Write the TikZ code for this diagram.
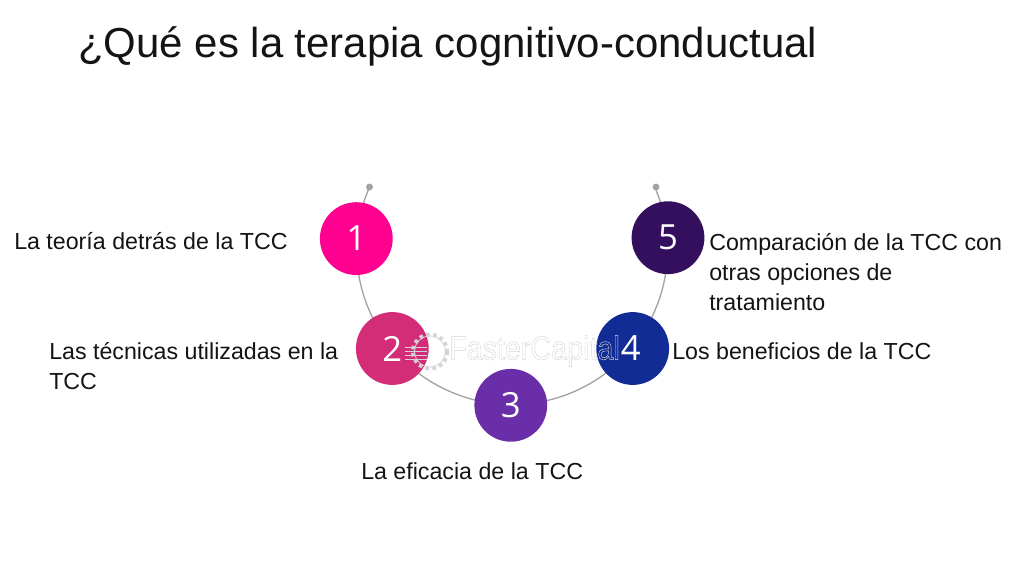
\documentclass[tikz,border=0pt]{standalone}
\usepackage{fontspec}
\setmainfont{Liberation Sans}
\newfontfamily\numfont{Open Sans}
\definecolor{cA}{HTML}{FF0090}
\definecolor{cB}{HTML}{D42D78}
\definecolor{cC}{HTML}{6A2FA8}
\definecolor{cD}{HTML}{122C96}
\definecolor{cE}{HTML}{340F5E}
\definecolor{lineg}{HTML}{A3A3A3}
\definecolor{wmg}{HTML}{D4D4D4}
\tikzset{
 px/.style={x=0.75pt,y=-0.75pt},
 num/.style={circle,minimum size=54.6pt,inner sep=0pt,text=white,font=\numfont\fontsize{26}{26}\selectfont},
 lab/.style={anchor=west,inner sep=0pt,font=\fontsize{17.4}{22.6}\selectfont,text=black!92,align=left},
 arcline/.style={draw=lineg,line width=1pt},
 dotend/.style={circle,fill=lineg,minimum size=5.2pt,inner sep=0pt},
 wmline/.style={draw=wmg,line width=0.6pt}
}
\begin{document}
\begin{tikzpicture}[px]
\useasboundingbox[fill=white] (0,0) rectangle (1024,572);
\node[anchor=west,inner sep=0pt,font=\fontsize{31.45}{36}\selectfont,text=black!92] (title) at (78,46) {¿Qué es la terapia cognitivo-conductual};
\coordinate (s) at (369.5,187);
\coordinate (e) at (656,187);
\draw[arcline] (s) arc[start angle=203.5,end angle=-23.5,radius=155.5];
\node[dotend] (ds) at (s) {};
\node[dotend] (de) at (e) {};
\node[num,fill=cA] (n1) at (356.3,238.6) {\raisebox{-1.5pt}{1}};
\node[num,fill=cB] (n2) at (392.3,348.5) {\raisebox{-1.5pt}{2}};
\node[num,fill=cC] (n3) at (510.8,405.3) {\raisebox{-1.5pt}{3}};
\node[num,fill=cD] (n4) at (632.7,348.5) {\hspace*{-3pt}\raisebox{-1.5pt}{4}};
\node[num,fill=cE] (n5) at (668,237.7) {\raisebox{-1.5pt}{5}};
\node[lab] (l1) at (14,241) {La teoría detrás de la TCC};
\node[lab] (l2) at (49,366) {Las técnicas utilizadas en la\\TCC};
\node[lab] (l3) at (361,471) {La eficacia de la TCC};
\node[lab] (l4) at (672,351) {Los beneficios de la TCC};
\node[lab] (l5) at (709,272) {Comparación de la TCC con\\otras opciones de\\tratamiento};
% watermark
\coordinate (g) at (430,351.5);
\draw[wmline,line width=3pt,dash pattern=on 2.6pt off 2.6pt] (g) circle[radius=17];
\draw[wmline] (g) circle[radius=15.5];
\foreach \yy in {347,351,355,359}{\draw[wmline] (405,\yy) -- (427,\yy);}
\node[anchor=west,inner sep=0pt,font=\fontsize{25}{24}\selectfont,text=wmg] (wm) at (449,351) {\scalebox{0.86}[1]{\special{pdf:code 1 Tr 0.35 w 0.83 G}FasterCapital\special{pdf:code 0 Tr}}};
\end{tikzpicture}
\end{document}
